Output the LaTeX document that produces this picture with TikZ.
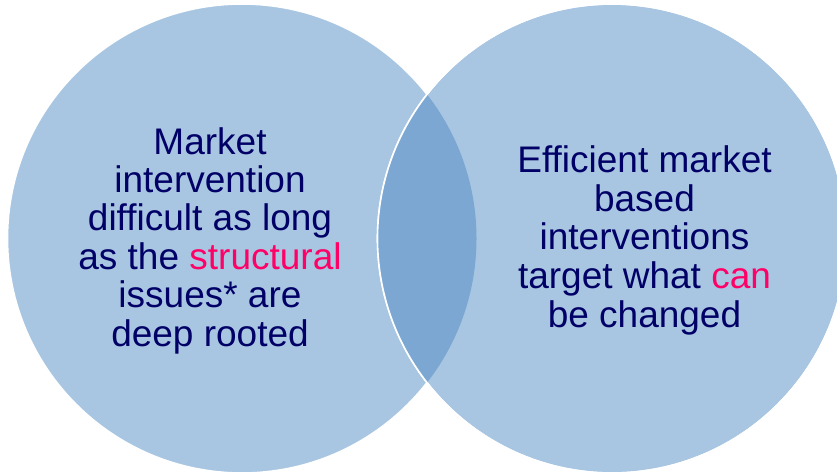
\documentclass[tikz,border=0pt]{standalone}
\usepackage{fontspec}
\setmainfont{Liberation Sans}
\definecolor{circfill}{HTML}{A8C6E2}
\definecolor{lensfill}{HTML}{7BA7D2}
\definecolor{navytext}{HTML}{000066}
\definecolor{pinktext}{HTML}{FF0066}
\begin{document}
\begin{tikzpicture}[x=1pt,y=-1pt,
  bubble/.style={circle, fill=circfill, draw=white, line width=1.6pt, minimum size=469pt, inner sep=0pt},
  txt/.style={anchor=base, inner sep=0pt, text=navytext, font=\fontsize{37}{38.4}\selectfont}]
\useasboundingbox (0,0) rectangle (837,475);
\node[bubble] (L) at (242,238.5) {};
\node[bubble] (R) at (612,238.5) {};
\begin{scope}
  \clip (242,238.5) circle (234.5);
  \fill[lensfill] (612,238.5) circle (234.5);
\end{scope}
\draw[white, line width=1.6pt] (612,238.5) circle (234.5);
% left text
\node[txt] (l1) at (210,154) {Market};
\node[txt] (l2) at (210,192.4) {intervention};
\node[txt] (l3) at (210,230.8) {difficult as long};
\node[txt] (l4) at (210,269.2) {as the \textcolor{pinktext}{structural}};
\node[txt] (l5) at (210,307.6) {issues* are};
\node[txt] (l6) at (210,346) {deep rooted};
% right text
\node[txt] (r1) at (644.5,172.7) {Efficient market};
\node[txt] (r2) at (644.5,211.3) {based};
\node[txt] (r3) at (644.5,249.9) {interventions};
\node[txt] (r4) at (644.5,288.5) {target what \textcolor{pinktext}{can}};
\node[txt] (r5) at (644.5,327.1) {be changed};
\end{tikzpicture}
\end{document}
